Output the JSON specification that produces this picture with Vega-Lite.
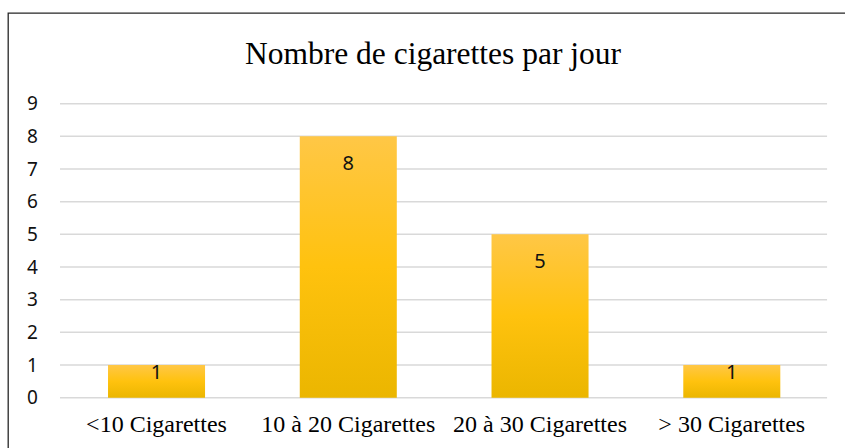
{
  "$schema": "https://vega.github.io/schema/vega-lite/v6.json",
  "autosize": "none",
  "padding": {"left": 8, "top": 13, "right": 0, "bottom": 0},
  "width": 850,
  "height": 440,
  "background": "white",
  "config": {"view": {"stroke": "#262626", "strokeWidth": 1.3}},
  "title": {
    "text": "Nombre de cigarettes par jour",
    "font": "Liberation Serif",
    "fontSize": 31.5,
    "fontWeight": "normal",
    "color": "#000000",
    "anchor": "middle",
    "frame": "group",
    "orient": "top",
    "baseline": "alphabetic",
    "offset": -82
  },
  "datasets": {
    "bars": [
      {"cat": "<10 Cigarettes", "n": 1},
      {"cat": "10 à 20 Cigarettes", "n": 8},
      {"cat": "20 à 30 Cigarettes", "n": 5},
      {"cat": "> 30 Cigarettes", "n": 1}
    ],
    "grid": [
      {"v": 0}, {"v": 1}, {"v": 2}, {"v": 3}, {"v": 4},
      {"v": 5}, {"v": 6}, {"v": 7}, {"v": 8}, {"v": 9}
    ]
  },
  "layer": [
    {
      "data": {"name": "grid"},
      "mark": {"type": "rule", "color": "#d9d9d9", "strokeWidth": 1.5},
      "encoding": {
        "y": {"field": "v", "type": "quantitative"},
        "x": {"datum": "<10 Cigarettes", "type": "nominal", "bandPosition": -0.495},
        "x2": {"datum": "> 30 Cigarettes", "bandPosition": 1.482}
      }
    },
    {
      "data": {"name": "bars"},
      "mark": {
        "type": "bar",
        "color": {
          "gradient": "linear",
          "x1": 0, "y1": 0, "x2": 0, "y2": 1,
          "stops": [
            {"offset": 0, "color": "#FFC746"},
            {"offset": 0.5, "color": "#FFC20E"},
            {"offset": 1, "color": "#EBB600"}
          ]
        }
      },
      "encoding": {
        "x": {
          "field": "cat",
          "type": "nominal",
          "scale": {
            "domain": ["<10 Cigarettes", "10 à 20 Cigarettes", "20 à 30 Cigarettes", "> 30 Cigarettes"],
            "paddingInner": 0.494,
            "paddingOuter": 0.4634,
            "align": 0.5628
          },
          "axis": {
            "title": null,
            "ticks": false,
            "tickSize": 0,
            "domain": false,
            "labelPadding": 0,
            "offset": -21.3,
            "labelBaseline": "alphabetic",
            "labelAlign": "center",
            "labelFont": "Liberation Serif",
            "labelFontSize": 24,
            "labelColor": "#000000",
            "labelAngle": 0,
            "labelLimit": 400
          }
        },
        "y": {
          "field": "n",
          "type": "quantitative",
          "scale": {"domain": [-1.693, 11.776], "nice": false, "zero": false},
          "axis": {
            "title": null,
            "values": [0, 1, 2, 3, 4, 5, 6, 7, 8, 9],
            "grid": false,
            "ticks": false,
            "tickSize": 0,
            "domain": false,
            "labelPadding": 0,
            "offset": -24,
            "labelAlign": "center",
            "labelFont": "Noto Sans",
            "labelFontSize": 19,
            "labelColor": "#111111"
          }
        },
        "y2": {"datum": 0}
      }
    },
    {
      "data": {"name": "bars"},
      "transform": [{"filter": "datum.n >= 3"}],
      "mark": {"type": "text", "baseline": "middle", "dy": 28, "font": "Noto Sans", "fontSize": 20, "color": "#111111"},
      "encoding": {
        "x": {"field": "cat", "type": "nominal"},
        "y": {"field": "n", "type": "quantitative"},
        "text": {"field": "n", "type": "quantitative"}
      }
    },
    {
      "data": {"name": "bars"},
      "transform": [{"filter": "datum.n < 3"}],
      "mark": {"type": "text", "baseline": "middle", "dy": 8, "font": "Noto Sans", "fontSize": 20, "color": "#111111"},
      "encoding": {
        "x": {"field": "cat", "type": "nominal"},
        "y": {"field": "n", "type": "quantitative"},
        "text": {"field": "n", "type": "quantitative"}
      }
    }
  ]
}
